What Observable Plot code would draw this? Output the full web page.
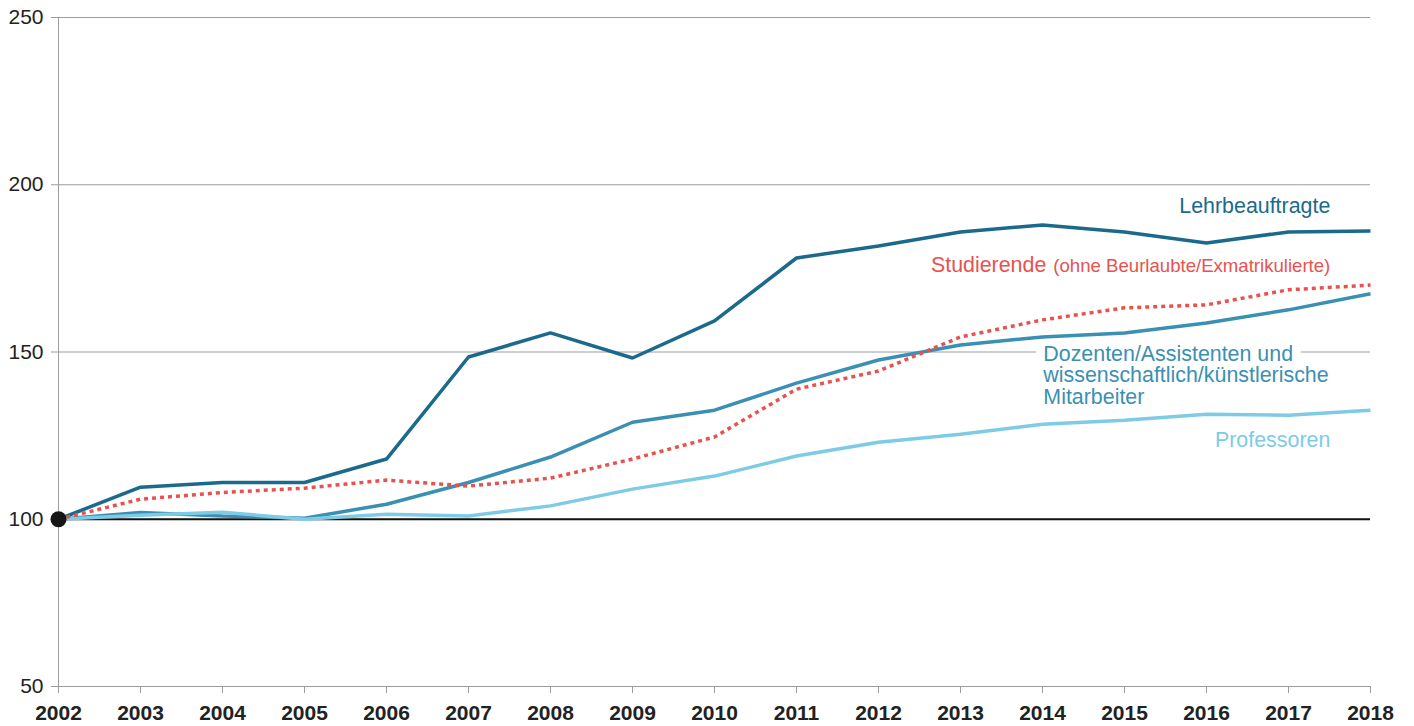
<!DOCTYPE html>
<html><head><meta charset="utf-8">
<script src="https://cdn.jsdelivr.net/npm/d3@7"></script>
<script src="https://cdn.jsdelivr.net/npm/@observablehq/plot@0.6"></script>
<style>body{margin:0;background:#fff}</style>
</head><body><div id="chart"></div>
<script>
// ---- data ----
const years = [2002,2003,2004,2005,2006,2007,2008,2009,2010,2011,2012,2013,2014,2015,2016,2017,2018];
const lehrbeauftragte = [100,109.6,111,111,118,148.5,155.7,148.2,159.3,178.1,181.7,185.9,188,185.9,182.6,185.9,186.2];
const dozenten        = [100,102,101,100.3,104.5,111,118.6,129,132.6,140.7,147.6,152.1,154.5,155.7,158.7,162.6,167.4];
const professoren     = [100,101.2,102.1,100,101.5,101,104,109,112.9,118.9,123,125.4,128.4,129.6,131.4,131.1,132.6];
const studierende     = [100,106,108,109.3,111.7,109.9,112.3,118,124.6,138.9,144.3,154.5,159.6,163.2,164.1,168.6,170];
const seriesNames = ["Lehrbeauftragte","Dozenten","Professoren","Studierende"];
const seriesColors = ["#1b6a8c","#3a90b2","#7ecbe6","#e8524e"];
const yTicks = [50,100,150,200,250];
const baseYear = 2002, baseIndex = 100;
const labelLehr = "Lehrbeauftragte";
const labelStud = "Studierende";
const labelStudSub = "(ohne Beurlaubte/Exmatrikulierte)";
const labelDozFirst = "Dozenten/Assistenten und";
const labelDoz = "Dozenten/Assistenten und\nwissenschaftlich/künstlerische\nMitarbeiter";
const labelProf = "Professoren";

// ---- table ----
const seriesValues = [lehrbeauftragte, dozenten, professoren, studierende];
const rows = [];
seriesNames.forEach((s, i) => years.forEach((yr, j) => rows.push({series: s, year: yr, value: seriesValues[i][j]})));
const solidRows = rows.filter(d => d.series !== "Studierende");
const studRows = rows.filter(d => d.series === "Studierende");

const font = '"Liberation Sans", Arial, Helvetica, sans-serif';
const gray = "#9c9c9c";
const fs = 21.4;

const chart = Plot.plot({
  width: 1414, height: 726,
  marginLeft: 58, marginRight: 44, marginTop: 17, marginBottom: 40,
  style: {fontFamily: font, fontSize: "20px", color: "#222", background: "#fff", overflow: "visible"},
  x: {domain: [2002, 2018]},
  y: {domain: [50, 250]},
  color: {domain: seriesNames, range: seriesColors},
  marks: [
    Plot.gridY(yTicks.filter(t => t !== 100 && t !== 50), {stroke: gray, strokeOpacity: 1, strokeWidth: 1}),
    Plot.axisY(yTicks, {tickSize: 7, tickPadding: 8, stroke: gray, fill: "#222", label: null, fontSize: 21}),
    Plot.axisX(years, {tickSize: 7, tickPadding: 12, stroke: gray, fill: "#222", tickFormat: d => String(d), fontWeight: "bold", label: null, fontSize: 21}),
    Plot.ruleY([50], {stroke: gray, strokeWidth: 1}),
    Plot.ruleX([2002], {stroke: gray, strokeWidth: 1, y1: 50, y2: 250}),
    Plot.ruleY([baseIndex], {stroke: "#111", strokeWidth: 2}),
    // white halo behind the Dozenten label's first line (breaks the 150 gridline)
    Plot.text([labelDozFirst], {x: 2014.01, y: 151.86, text: d => d, textAnchor: "start", lineAnchor: "top",
      fill: "white", stroke: "white", strokeWidth: 18, fontSize: fs}),
    Plot.line(solidRows, {x: "year", y: "value", z: "series", stroke: "series", strokeWidth: 3.5, strokeLinejoin: "miter", strokeLinecap: "butt"}),
    Plot.line(studRows, {x: "year", y: "value", stroke: "series", strokeWidth: 3.5, strokeDasharray: "4 4", strokeLinecap: "butt"}),
    Plot.dot([{year: baseYear, value: baseIndex}], {x: "year", y: "value", r: 8, fill: "#151515"}),
    Plot.text([labelLehr], {x: 2017.51, y: 191.6, text: d => d, textAnchor: "end", lineAnchor: "bottom", fill: seriesColors[0], fontSize: fs}),
    Plot.text([labelStudSub], {x: 2017.51, y: 174.0, text: d => d, textAnchor: "end", lineAnchor: "bottom", fill: seriesColors[3], fontSize: 18.6}),
    Plot.text([labelStud], {x: 2017.51, y: 174.0, dx: -284, text: d => d, textAnchor: "end", lineAnchor: "bottom", fill: seriesColors[3], fontSize: fs}),
    Plot.text([labelDoz], {x: 2014.01, y: 151.86, text: d => d, textAnchor: "start", lineAnchor: "top", lineHeight: 1.0, fill: seriesColors[1], fontSize: fs}),
    Plot.text([labelProf], {x: 2017.51, y: 121.6, text: d => d, textAnchor: "end", lineAnchor: "bottom", fill: seriesColors[2], fontSize: fs})
  ]
});
document.getElementById("chart").appendChild(chart);
</script>
</body></html>
